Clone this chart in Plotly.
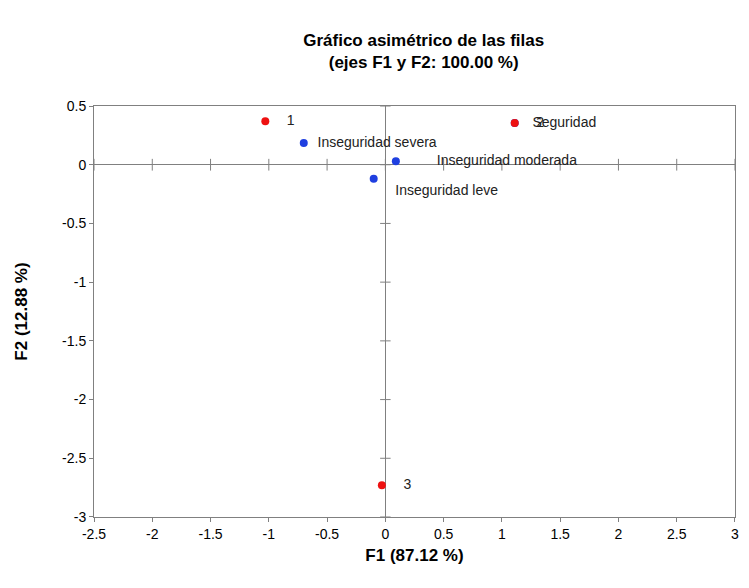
import plotly.graph_objects as go

row_labels = ["1", "2", "3"]
row_x = [-1.03, 1.11, -0.03]
row_y = [0.37, 0.355, -2.73]
col_labels = ["Inseguridad severa", "Inseguridad moderada", "Inseguridad leve", "Seguridad"]
col_x = [-0.70, 0.09, -0.10, 1.11]
col_y = [0.185, 0.03, -0.12, 0.355]
col_text = ["  Inseguridad severa", "         Inseguridad moderada", "    Inseguridad leve", "   Seguridad"]
col_pos = ["middle right", "middle right", "bottom right", "middle right"]
xticks = [-2.5, -2, -1.5, -1, -0.5, 0, 0.5, 1, 1.5, 2, 2.5, 3]
yticks = [0.5, 0, -0.5, -1, -1.5, -2, -2.5, -3]

fig = go.Figure()
tx, ty = [], []
for v in xticks:
    tx += [v, v, None]; ty += [-0.05, 0.05, None]
for v in yticks:
    tx += [-0.045, 0.045, None]; ty += [v, v, None]
fig.add_trace(go.Scatter(x=tx, y=ty, mode="lines", line=dict(color="#808080", width=1),
                         hoverinfo="skip", showlegend=False))
fig.add_trace(go.Scatter(x=col_x, y=col_y, mode="markers+text", text=col_text,
                         textposition=col_pos, marker=dict(color="#1f3fe0", size=8),
                         textfont=dict(family="Liberation Sans", size=14, color="#222"), showlegend=False))
fig.add_trace(go.Scatter(x=row_x, y=row_y, mode="markers+text", text=["    " + t for t in row_labels],
                         textposition="middle right", marker=dict(color="#ee1111", size=8),
                         textfont=dict(family="Liberation Sans", size=14, color="#222"), showlegend=False))

ax = dict(showgrid=False, zeroline=True, zerolinecolor="#808080", zerolinewidth=1,
          showline=True, linecolor="#808080", mirror=True, ticks="outside", ticklen=4,
          tickcolor="#808080", tickfont=dict(family="Liberation Sans", size=14, color="black"),
          title_font=dict(family="Liberation Sans", size=17, color="black"))
fig.update_xaxes(**ax, range=[-2.5, 3.0001], tickvals=xticks, ticktext=[f"{v:g}" for v in xticks],
                 title_text="<b>F1 (87.12 %)</b>", title_standoff=8)
fig.update_yaxes(**ax, range=[-3.0001, 0.5001], tickvals=yticks, ticktext=[f"{v:g}" for v in yticks],
                 title_text="<b>F2 (12.88 %)</b>", title_standoff=30)
fig.update_layout(width=749, height=588, plot_bgcolor="white", paper_bgcolor="white",
                  margin=dict(l=82, r=22, t=98, b=79),
                  title=dict(text="<b>Gráfico asimétrico de las filas<br>(ejes F1 y F2: 100.00 %)</b>",
                             x=0.555, xanchor="center", y=0.935, yanchor="top",
                             font=dict(family="Liberation Sans", size=17, color="black")))
fig.write_html("out.html")
